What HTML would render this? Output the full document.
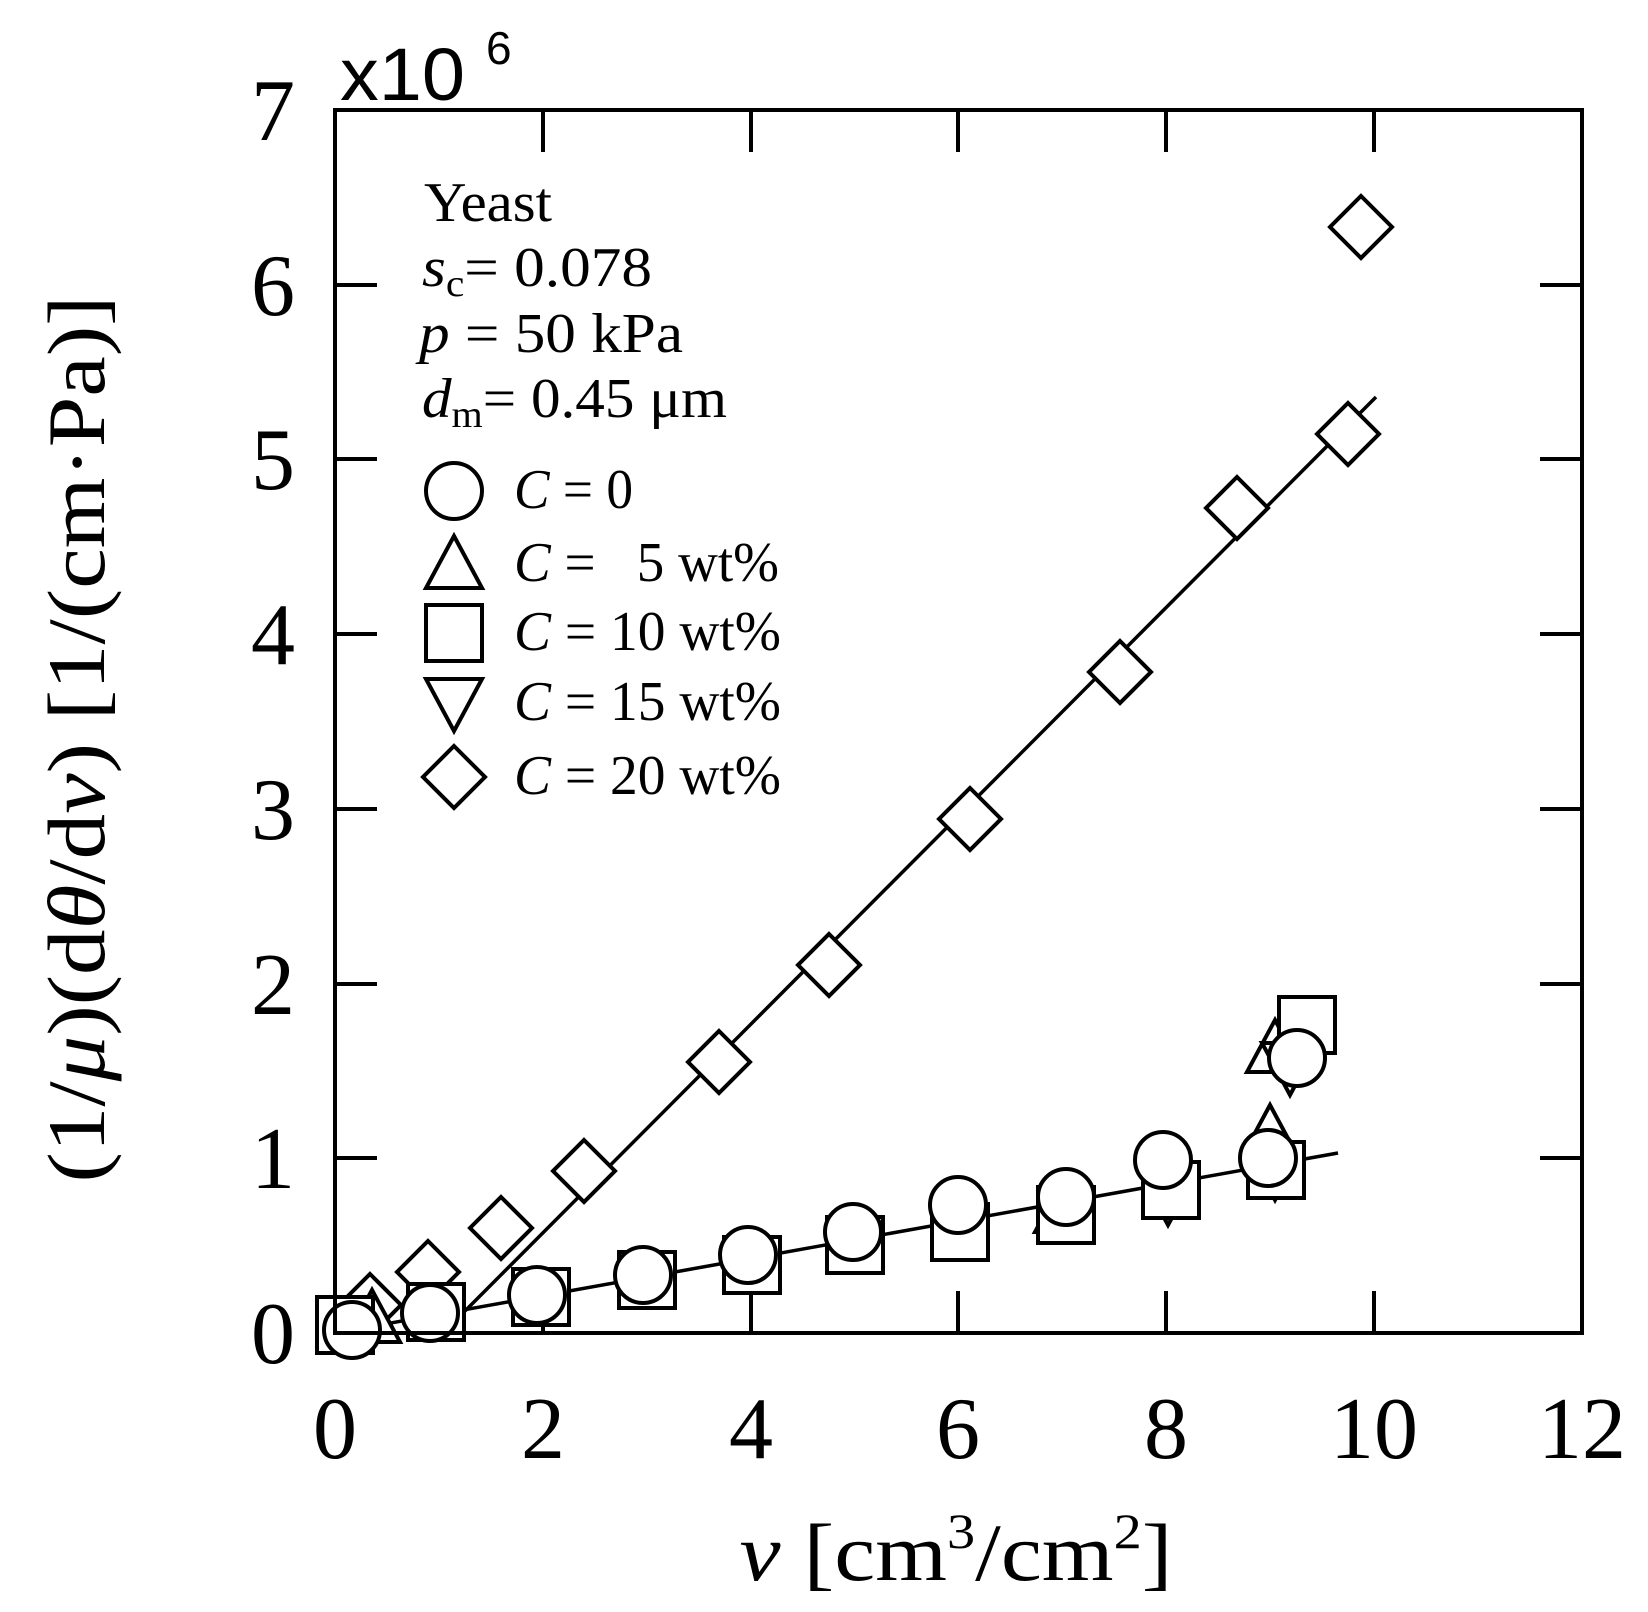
<!DOCTYPE html>
<html><head><meta charset="utf-8"><style>
html,body{margin:0;padding:0;background:#fff;}
svg{display:block;}
text{font-family:"Liberation Serif",serif;fill:#000;}
</style></head><body>
<svg width="1648" height="1612" viewBox="0 0 1648 1612" xmlns="http://www.w3.org/2000/svg">
<defs>
<g id="ci"><circle r="28" fill="#fff" stroke="#000" stroke-width="4"/></g>
<g id="sq"><rect x="-28" y="-28" width="56" height="56" fill="#fff" stroke="#000" stroke-width="4"/></g>
<g id="tr"><polygon points="0,-30 28,22 -28,22" fill="#fff" stroke="#000" stroke-width="4"/></g>
<g id="it"><polygon points="0,30 28,-22 -28,-22" fill="#fff" stroke="#000" stroke-width="4"/></g>
<g id="di"><polygon points="0,-31 31,0 0,31 -31,0" fill="#fff" stroke="#000" stroke-width="4"/></g>
</defs>
<g stroke="#000" stroke-width="4">
<line x1="543" y1="1333" x2="543" y2="1291"/><line x1="751" y1="1333" x2="751" y2="1291"/><line x1="958" y1="1333" x2="958" y2="1291"/><line x1="1166" y1="1333" x2="1166" y2="1291"/><line x1="1374" y1="1333" x2="1374" y2="1291"/>
<line x1="543" y1="110" x2="543" y2="152"/><line x1="751" y1="110" x2="751" y2="152"/><line x1="958" y1="110" x2="958" y2="152"/><line x1="1166" y1="110" x2="1166" y2="152"/><line x1="1374" y1="110" x2="1374" y2="152"/>
<line x1="335" y1="1158" x2="377" y2="1158"/><line x1="335" y1="984" x2="377" y2="984"/><line x1="335" y1="809" x2="377" y2="809"/><line x1="335" y1="634" x2="377" y2="634"/><line x1="335" y1="459" x2="377" y2="459"/><line x1="335" y1="285" x2="377" y2="285"/>
<line x1="1582" y1="1158" x2="1540" y2="1158"/><line x1="1582" y1="984" x2="1540" y2="984"/><line x1="1582" y1="809" x2="1540" y2="809"/><line x1="1582" y1="634" x2="1540" y2="634"/><line x1="1582" y1="459" x2="1540" y2="459"/><line x1="1582" y1="285" x2="1540" y2="285"/>
</g>
<g stroke="#000" stroke-width="3.5">
<line x1="460" y1="1316" x2="1376" y2="397"/>
<line x1="335" y1="1333" x2="1338" y2="1153"/>
</g>
<use href="#di" x="370" y="1305"/><use href="#di" x="428" y="1272"/><use href="#di" x="501" y="1228"/><use href="#di" x="584" y="1171"/><use href="#di" x="719" y="1062"/><use href="#di" x="829" y="965"/><use href="#di" x="970" y="819"/><use href="#di" x="1120" y="672"/><use href="#di" x="1237" y="508"/><use href="#di" x="1348" y="434"/><use href="#di" x="1361" y="227"/>
<use href="#tr" x="372" y="1320"/><use href="#tr" x="1275" y="1050"/><use href="#tr" x="1270" y="1135"/><use href="#tr" x="1063" y="1210"/>
<use href="#it" x="1275" y="1170"/><use href="#it" x="1290" y="1065"/><use href="#it" x="1168" y="1195"/>
<use href="#sq" x="345" y="1325"/><use href="#sq" x="436" y="1312"/><use href="#sq" x="541" y="1297"/><use href="#sq" x="647" y="1280"/><use href="#sq" x="752" y="1265"/><use href="#sq" x="855" y="1245"/><use href="#sq" x="960" y="1232"/><use href="#sq" x="1066" y="1215"/><use href="#sq" x="1171" y="1190"/><use href="#sq" x="1276" y="1170"/><use href="#sq" x="1307" y="1025"/>
<use href="#ci" x="352" y="1330"/><use href="#ci" x="430" y="1313"/><use href="#ci" x="537" y="1295"/><use href="#ci" x="643" y="1275"/><use href="#ci" x="748" y="1255"/><use href="#ci" x="853" y="1232"/><use href="#ci" x="958" y="1205"/><use href="#ci" x="1066" y="1197"/><use href="#ci" x="1163" y="1160"/><use href="#ci" x="1268" y="1158"/><use href="#ci" x="1297" y="1058"/>
<rect x="335" y="110" width="1247" height="1223" fill="none" stroke="#000" stroke-width="4"/>
<g font-size="88" text-anchor="middle">
<text x="335" y="1458">0</text><text x="543" y="1458">2</text><text x="751" y="1458">4</text><text x="958" y="1458">6</text><text x="1166" y="1458">8</text><text x="1374" y="1458">10</text><text x="1582" y="1458">12</text>
</g>
<g font-size="88" text-anchor="end">
<text x="295" y="1363">0</text><text x="295" y="1188">1</text><text x="295" y="1014">2</text><text x="295" y="839">3</text><text x="295" y="664">4</text><text x="295" y="489">5</text><text x="295" y="315">6</text><text x="295" y="140">7</text>
</g>
<text x="340" y="100" font-size="74" textLength="125" lengthAdjust="spacingAndGlyphs" style="font-family:'Liberation Sans',sans-serif">x10</text>
<text x="486" y="64" font-size="46" style="font-family:'Liberation Sans',sans-serif">6</text>
<text x="956" y="1580" font-size="82" text-anchor="middle" textLength="433" lengthAdjust="spacingAndGlyphs"><tspan font-style="italic">v</tspan> [cm<tspan font-size="50" dy="-32">3</tspan><tspan dy="32">/cm</tspan><tspan font-size="50" dy="-32">2</tspan><tspan dy="32">]</tspan></text>
<text transform="translate(104,739) rotate(-90)" font-size="82" text-anchor="middle" textLength="887" lengthAdjust="spacingAndGlyphs">(1/<tspan font-style="italic">μ</tspan>)(d<tspan font-style="italic">θ</tspan>/d<tspan font-style="italic">v</tspan>) [1/(cm·Pa)]</text>
<g font-size="56">
<text x="424" y="221" textLength="128" lengthAdjust="spacingAndGlyphs">Yeast</text>
<text x="422" y="286" textLength="230" lengthAdjust="spacingAndGlyphs"><tspan font-style="italic">s</tspan><tspan font-size="38" dy="10">c</tspan><tspan dy="-10">= 0.078</tspan></text>
<text x="419" y="352" textLength="264" lengthAdjust="spacingAndGlyphs"><tspan font-style="italic">p</tspan> = 50 kPa</text>
<text x="422" y="417" textLength="305" lengthAdjust="spacingAndGlyphs"><tspan font-style="italic">d</tspan><tspan font-size="38" dy="10">m</tspan><tspan dy="-10">= 0.45 μm</tspan></text>
<text x="514" y="508" textLength="119" lengthAdjust="spacingAndGlyphs"><tspan font-style="italic">C</tspan> = 0</text>
<text x="514" y="581" textLength="265" lengthAdjust="spacingAndGlyphs" xml:space="preserve"><tspan font-style="italic">C</tspan> =   5 wt%</text>
<text x="514" y="650" textLength="267" lengthAdjust="spacingAndGlyphs"><tspan font-style="italic">C</tspan> = 10 wt%</text>
<text x="514" y="720" textLength="267" lengthAdjust="spacingAndGlyphs"><tspan font-style="italic">C</tspan> = 15 wt%</text>
<text x="514" y="794" textLength="267" lengthAdjust="spacingAndGlyphs"><tspan font-style="italic">C</tspan> = 20 wt%</text>
</g>
<use href="#ci" x="454" y="491"/><use href="#tr" x="454" y="566"/><use href="#sq" x="454" y="633"/><use href="#it" x="454" y="701"/><use href="#di" x="454" y="777"/>
</svg>
</body></html>
